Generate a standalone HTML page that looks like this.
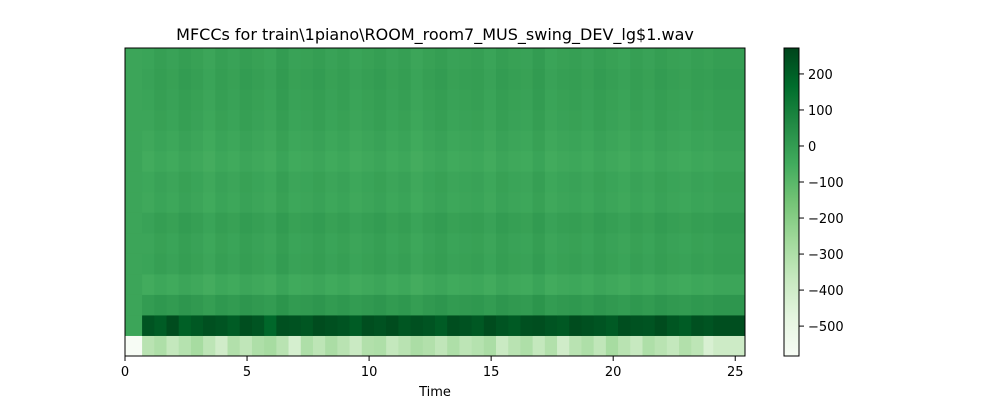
<!DOCTYPE html>
<html><head><meta charset="utf-8"><style>
body{margin:0;background:#fff}
svg{display:block;font-family:"DejaVu Sans","Liberation Sans",sans-serif}
</style></head><body>
<svg id="s" width="1000" height="400" viewBox="0 0 1000 400">
<text x="435" y="40" text-anchor="middle" font-size="16">MFCCs for train\1piano\ROOM_room7_MUS_swing_DEV_lg$1.wav</text>
<text x="435" y="396" text-anchor="middle" font-size="13">Time</text>
<g id="heat"></g>
<g id="xax"></g>
<defs><linearGradient id="cg" x1="0" y1="1" x2="0" y2="0">
<stop offset="0" stop-color="#f7fcf5"/><stop offset="0.125" stop-color="#e5f5e0"/><stop offset="0.25" stop-color="#c7e9c0"/><stop offset="0.375" stop-color="#a1d99b"/><stop offset="0.5" stop-color="#74c476"/><stop offset="0.625" stop-color="#41ab5d"/><stop offset="0.75" stop-color="#238b45"/><stop offset="0.875" stop-color="#006d2c"/><stop offset="1" stop-color="#00441b"/></linearGradient></defs>
<rect x="784" y="48" width="15" height="308" fill="url(#cg)" stroke="#000" stroke-width="1"/>
<g id="cax"></g>
</svg>
<script>
const xTicks=[0,5,10,15,20,25];
const cTicks=[200,100,0,-100,-200,-300,-400,-500];
const vmin=-583, vmax=272, tmax=25.4;
const silenceEnd=0.7, tailStart=24.1, colW=0.5;
const nRows=15;
// row 0 (lowest coefficient) per column
const row0=[-330,-300,-360,-320,-280,-340,-400,-310,-350,-300,-280,-330,-420,-300,-340,-290,-330,-380,-310,-300,-360,-330,-290,-310,-350,-300,-340,-320,-290,-380,-330,-300,-360,-310,-400,-330,-300,-350,-280,-330,-370,-300,-330,-360,-310,-340,-430];
const row1=[230,210,250,200,220,240,230,210,245,230,180,240,235,225,250,240,230,210,245,235,250,225,240,230,210,245,235,220,250,230,215,240,245,230,220,250,240,230,215,245,235,230,250,225,210,240,230];
const rowBase=[0,-30,10,-40,-15,-20,-10,-30,-25,-40,-30,-20,-15,-10,-15];
const colVar=[-10,5,-5,10,0,-15,5,-5,10,0,-10,15,-5,0,10,-5,5,-10,0,10,-5,5,-15,0,10,-5,0,5,-10,10,0,-5,15,-10,0,5,-5,10,0,-10,5,-5,10,0,-5,5,0];
const tailRow0=-390, tailRow1=245, silenceRow0=-583, silenceOther=-30;

const stops=[[247,252,245],[229,245,224],[199,233,192],[161,217,155],[116,196,118],[65,171,93],[35,139,69],[0,109,44],[0,68,27]];
function cmap(v){let t=Math.max(0,Math.min(1,(v-vmin)/(vmax-vmin)))*8;let i=Math.min(7,Math.floor(t)),f=t-i;
const a=stops[i],b=stops[i+1];return `rgb(${a.map((c,k)=>Math.round(c+(b[k]-c)*f)).join(',')})`;}
const X=t=>125+t/tmax*620;
const rowH=308/nRows;
const Y=r=>356-(r+1)*rowH;
const CY=v=>356-(v-vmin)/(vmax-vmin)*308;
const NS='http://www.w3.org/2000/svg';
function mk(tag,at,parent){const e=document.createElementNS(NS,tag);for(const k in at)e.setAttribute(k,at[k]);parent.appendChild(e);return e;}
const heat=document.getElementById('heat');
function cell(t0,t1,r,v){const e=mk('rect',{x:X(t0),y:Y(r),width:X(t1)-X(t0)+0.5,height:rowH+0.5,fill:cmap(v)},heat);

}
for(let r=0;r<nRows;r++){
  cell(0,silenceEnd,r,r===0?silenceRow0:silenceOther);
  for(let c=0;c<row0.length;c++){
    const t0=silenceEnd+c*colW,t1=Math.min(tailStart,t0+colW);
    const v=r===0?row0[c]:r===1?row1[c]:rowBase[r]+colVar[c];
    cell(t0,t1,r,v);
  }
  cell(tailStart,tmax,r,r===0?tailRow0:r===1?tailRow1:rowBase[r]+10);
}
const fr=mk('rect',{x:125,y:48,width:620,height:308,fill:'none',stroke:'#000','stroke-width':1},heat);


const xax=document.getElementById('xax');
xTicks.forEach(t=>{mk('line',{x1:X(t),x2:X(t),y1:356,y2:361,stroke:'#000'},xax);
const tx=mk('text',{x:X(t),y:376,'text-anchor':'middle','font-size':13},xax);tx.textContent=t;

});
const cax=document.getElementById('cax');
cTicks.forEach(v=>{mk('line',{x1:799,x2:804,y1:CY(v),y2:CY(v),stroke:'#000'},cax);
const tx=mk('text',{x:808,y:CY(v)+5,'font-size':13},cax);tx.textContent=v<0?'\u2212'+(-v):v;

});
</script>
</body></html>
